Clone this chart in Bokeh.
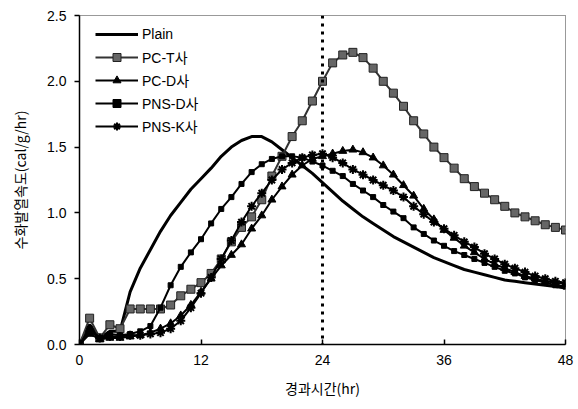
from bokeh.plotting import figure
from bokeh.models import Range1d, FixedTicker, NumeralTickFormatter, Span, Legend
from bokeh.embed import file_html
from bokeh.resources import INLINE

hours = list(range(0, 49))

plain = [0, 0.15, 0.05, 0.10, 0.10, 0.40, 0.58, 0.72, 0.86, 0.98, 1.08, 1.18, 1.26, 1.34, 1.43, 1.50,
         1.55, 1.58, 1.58, 1.54, 1.48, 1.42, 1.36, 1.30, 1.23, 1.16, 1.09, 1.03, 0.97, 0.92, 0.87,
         0.82, 0.78, 0.74, 0.70, 0.66, 0.63, 0.60, 0.57, 0.55, 0.53, 0.51, 0.49, 0.48, 0.47, 0.46,
         0.45, 0.44, 0.43]
pc_t = [0, 0.20, 0.05, 0.15, 0.12, 0.27, 0.27, 0.27, 0.27, 0.30, 0.37, 0.42, 0.47, 0.54, 0.65, 0.78,
        0.89, 0.97, 1.10, 1.28, 1.43, 1.58, 1.70, 1.85, 2.00, 2.14, 2.20, 2.22, 2.18, 2.10, 2.00,
        1.91, 1.81, 1.70, 1.60, 1.50, 1.42, 1.34, 1.26, 1.20, 1.15, 1.10, 1.05, 1.00, 0.97, 0.94,
        0.91, 0.89, 0.87]
pc_d = [0, 0.08, 0.04, 0.05, 0.05, 0.06, 0.07, 0.09, 0.12, 0.16, 0.22, 0.30, 0.40, 0.50, 0.60, 0.68,
        0.76, 0.88, 0.98, 1.10, 1.20, 1.29, 1.36, 1.41, 1.43, 1.45, 1.47, 1.48, 1.46, 1.42, 1.36,
        1.29, 1.21, 1.13, 1.03, 0.95, 0.87, 0.81, 0.75, 0.70, 0.65, 0.61, 0.58, 0.55, 0.52, 0.50,
        0.48, 0.47, 0.46]
pns_d = [0, 0.12, 0.05, 0.08, 0.07, 0.08, 0.10, 0.14, 0.28, 0.45, 0.59, 0.70, 0.80, 0.92, 1.03, 1.12,
         1.22, 1.31, 1.37, 1.41, 1.43, 1.43, 1.42, 1.39, 1.36, 1.32, 1.28, 1.22, 1.17, 1.12, 1.06,
         1.01, 0.96, 0.89, 0.84, 0.79, 0.75, 0.71, 0.68, 0.65, 0.62, 0.59, 0.56, 0.54, 0.51, 0.49,
         0.47, 0.45, 0.44]
pns_k = [0, 0.10, 0.05, 0.06, 0.06, 0.07, 0.07, 0.08, 0.09, 0.12, 0.18, 0.28, 0.39, 0.51, 0.65, 0.79,
         0.93, 1.05, 1.15, 1.25, 1.33, 1.38, 1.42, 1.44, 1.45, 1.42, 1.38, 1.33, 1.29, 1.25, 1.21,
         1.17, 1.12, 1.05, 0.99, 0.93, 0.88, 0.83, 0.78, 0.74, 0.69, 0.65, 0.61, 0.58, 0.55, 0.52,
         0.50, 0.48, 0.47]

x_ticks = [0, 12, 24, 36, 48]
y_ticks = [0.0, 0.5, 1.0, 1.5, 2.0, 2.5]
ref_time = 24

p = figure(width=578, height=405, output_backend="svg", toolbar_location=None,
           x_range=Range1d(0, 48), y_range=Range1d(0, 2.5),
           min_border_left=79, min_border_right=13, min_border_top=15, min_border_bottom=61)
p.xgrid.visible = False
p.ygrid.visible = False
p.background_fill_color = "white"
p.border_fill_color = "white"
p.outline_line_color = "#333333"
p.outline_line_width = 1
p.outline_line_dash = "1 1"

for ax in (p.xaxis[0], p.yaxis[0]):
    ax.axis_line_color = "black"
    ax.axis_line_width = 1.5
    ax.major_tick_line_color = "black"
    ax.major_tick_line_width = 1.5
    ax.minor_tick_line_color = None
    ax.major_label_text_font = "Liberation Sans"
    ax.major_label_text_font_size = "14px"
    ax.major_label_text_color = "black"
    ax.axis_label_text_font = "Noto Sans CJK KR"
    ax.axis_label_text_font_size = "14px"
    ax.axis_label_text_font_style = "normal"
    ax.axis_label_text_color = "black"

p.xaxis.ticker = FixedTicker(ticks=x_ticks)
p.yaxis.ticker = FixedTicker(ticks=y_ticks)
p.yaxis.formatter = NumeralTickFormatter(format="0.0")
p.xaxis.major_tick_in = 5
p.xaxis.major_tick_out = 0
p.yaxis.major_tick_in = 0
p.yaxis.major_tick_out = 5
p.xaxis.major_label_standoff = 10
p.yaxis.major_label_standoff = 8
p.xaxis.axis_label = "경과시간(hr)"
p.yaxis.axis_label = "수화발열속도(cal/g/hr)"
p.xaxis.axis_label_standoff = 10
p.yaxis.axis_label_standoff = 14

p.add_layout(Span(location=ref_time, dimension="height", line_color="black",
                  line_width=3, line_dash="3 5"))

items = []
r1 = p.line(hours, plain, line_color="black", line_width=3)
items.append(("Plain", [r1]))

r2 = p.line(hours, pc_t, line_color="#333333", line_width=2)
r2m = p.scatter(hours, pc_t, marker="square", size=8, fill_color="#666666",
                line_color="#222222", line_width=1)
items.append(("PC-T사", [r2, r2m]))

r3 = p.line(hours, pc_d, line_color="black", line_width=2)
r3m = p.scatter(hours, pc_d, marker="triangle", size=8, fill_color="black", line_color="black")
items.append(("PC-D사", [r3, r3m]))

r4 = p.line(hours, pns_d, line_color="black", line_width=2)
r4m = p.scatter(hours, pns_d, marker="square", size=5, fill_color="black", line_color="black")
items.append(("PNS-D사", [r4, r4m]))

r5 = p.line(hours, pns_k, line_color="black", line_width=2)
r5m = p.scatter(hours, pns_k, marker="asterisk", size=9, line_color="black", line_width=2)
items.append(("PNS-K사", [r5, r5m]))

legend = Legend(items=items, location=(16, 208))
legend.border_line_color = None
legend.background_fill_alpha = 0
legend.padding = 10
legend.margin = 0
legend.spacing = 3
legend.glyph_width = 43
legend.glyph_height = 20
legend.label_height = 20
legend.label_standoff = 4
legend.label_text_font = "Liberation Sans, Noto Sans CJK KR"
legend.label_text_font_size = "14px"
legend.label_text_color = "black"
p.add_layout(legend)

open("out.html", "w").write(file_html(p, INLINE))
